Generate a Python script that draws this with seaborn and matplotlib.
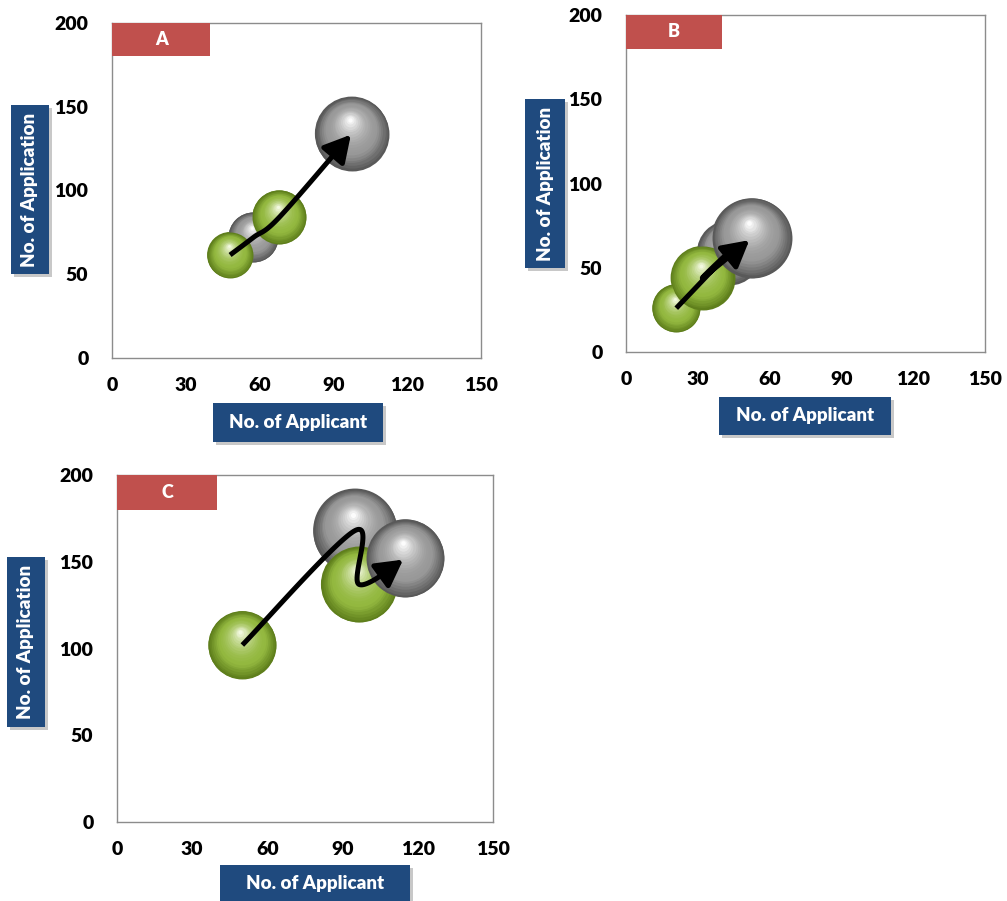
import numpy as np
import pandas as pd
import matplotlib
matplotlib.use("Agg")
import matplotlib.pyplot as plt
import matplotlib.transforms as mtransforms
from matplotlib.colors import to_rgb
from matplotlib.patches import Rectangle
import seaborn as sns

# ---- data ----
kind = ["green", "grey", "green", "grey"]

a_applicant = [48, 57.5, 68, 97.5]
a_application = [61.5, 72, 84, 134]
a_bubble = [529, 625, 729, 1369]

b_applicant = [21, 43, 32, 52.5]
b_application = [26, 59, 44, 67.5]
b_bubble = [576, 1024, 1024, 1600]

c_applicant = [50, 95, 96.5, 115]
c_application = [102, 168, 137, 152]
c_bubble = [1156, 1764, 1444, 1521]

x_ticks = [0, 30, 60, 90, 120, 150]
y_ticks = [0, 50, 100, 150, 200]

W, H = 1007, 901
AREA_SCALE = 2.07  # bubble value -> marker area (pt^2)
SHADES = {
    "green": ("#5f7f1c", "#93b83f", "#f2f9e0"),
    "grey": ("#595959", "#989898", "#fcfcfc"),
}
RED = "#c0504d"
BLUE = "#1f4a7e"
WEIGHT = "heavy"

sns.set_theme(style="white")
plt.rcParams["font.family"] = ["Lato", "DejaVu Sans"]
plt.rcParams["font.weight"] = "bold"


def fig_rect(x0, y0, x1, y1):
    return [x0 / W, 1 - y1 / H, (x1 - x0) / W, (y1 - y0) / H]


def blend(c1, c2, t):
    a, b = np.array(to_rgb(c1)), np.array(to_rgb(c2))
    return tuple(a + (b - a) * t)


def shade(kind_name, t):
    dark, mid, light = SHADES[kind_name]
    if t < 0.3:
        return blend(dark, mid, t / 0.3)
    return blend(mid, light, ((t - 0.3) / 0.7) ** 1.8)


def draw_spheres(ax, df, order):
    for rank, i in enumerate(order):
        row = df.iloc[i]
        s = row["bubble"] * AREA_SCALE
        r_pt = np.sqrt(s) / 2
        n = 20
        for k in range(n):
            t = k / (n - 1)
            f = 1 - 0.94 * t
            tr = mtransforms.offset_copy(ax.transData, fig=ax.figure,
                                         x=-0.06 * r_pt * t, y=0.38 * r_pt * t,
                                         units="points")
            ax.scatter([row["applicant"]], [row["application"]], s=s * f * f,
                       color=shade(row["kind"], t), linewidths=0,
                       transform=tr, zorder=3 + rank + k * 0.01)


def draw_path(ax, df):
    pts = ax.transData.transform(df[["applicant", "application"]].to_numpy(float))
    p = np.vstack([pts[0], pts, pts[-1]])
    curve = []
    for i in range(1, len(p) - 2):
        p0, p1, p2, p3 = p[i - 1], p[i], p[i + 1], p[i + 2]
        for t in np.linspace(0, 1, 40, endpoint=False):
            t2, t3 = t * t, t * t * t
            curve.append(0.5 * ((2 * p1) + (-p0 + p2) * t +
                                (2 * p0 - 5 * p1 + 4 * p2 - p3) * t2 +
                                (-p0 + 3 * p1 - 3 * p2 + p3) * t3))
    curve.append(p[-2])
    curve = np.array(curve)
    # stop the tip a little short of the last centre
    d = np.cumsum(np.r_[0, np.hypot(*np.diff(curve, axis=0).T)])
    tip_i = np.searchsorted(d, d[-1] - 3)
    base_i = np.searchsorted(d, d[-1] - 20)
    line = ax.transData.inverted().transform(curve[:base_i + 1])
    ax.plot(line[:, 0], line[:, 1], color="black", lw=3.6, zorder=20,
            solid_capstyle="butt")
    xy_tip = ax.transData.inverted().transform(curve[tip_i])
    ax.annotate("", xy=xy_tip, xytext=line[-1], zorder=21,
                arrowprops=dict(arrowstyle="-|>,head_length=1.0,head_width=0.55",
                                color="black", lw=3.6, shrinkA=0, shrinkB=0,
                                mutation_scale=16))


def style_axes(ax):
    ax.set_xlim(0, 150)
    ax.set_ylim(0, 200)
    ax.set_xticks(x_ticks, labels=[str(v) for v in x_ticks],
                  fontsize=14, fontweight=WEIGHT)
    ax.set_yticks(y_ticks, labels=[str(v) for v in y_ticks],
                  fontsize=14, fontweight=WEIGHT)
    ax.set_xlabel("")
    ax.set_ylabel("")
    for side in ["left", "bottom", "top", "right"]:
        ax.spines[side].set_visible(True)
        ax.spines[side].set_color("#8c8c8c")
        ax.spines[side].set_linewidth(1.0)
    ax.tick_params(axis="both", direction="out", length=6, width=1,
                   color="#8c8c8c", labelcolor="black")
    ax.tick_params(axis="x", pad=8)
    ax.tick_params(axis="y", pad=11)
    ax.grid(False)


def tag_box(ax, letter):
    ax.add_patch(Rectangle((0, 180), 40, 20, facecolor=RED, edgecolor="none",
                           zorder=30, clip_on=False))
    ax.text(20, 190, letter, color="white", fontsize=13, fontweight=WEIGHT,
            ha="center", va="center", zorder=31)


def label_box(fig, x0, y0, x1, y1, text, rotation=0):
    sx, sy = 3, 3
    fig.add_artist(Rectangle(((x0 + sx) / W, 1 - (y1 + sy) / H), (x1 - x0) / W,
                             (y1 - y0) / H, transform=fig.transFigure,
                             facecolor="#c8c8c8", edgecolor="none", zorder=1))
    fig.add_artist(Rectangle((x0 / W, 1 - y1 / H), (x1 - x0) / W, (y1 - y0) / H,
                             transform=fig.transFigure, facecolor=BLUE,
                             edgecolor="none", zorder=2))
    fig.text((x0 + x1) / 2 / W, 1 - (y0 + y1) / 2 / H, text, color="white",
             fontsize=13.5, fontweight=WEIGHT, ha="center", va="center",
             rotation=rotation, zorder=3)


panels = [
    ("A", a_applicant, a_application, a_bubble, fig_rect(112, 23, 481, 358),
     [1, 0, 2, 3], (11, 105, 49, 274), (213, 403, 383, 442)),
    ("B", b_applicant, b_application, b_bubble, fig_rect(626, 15, 985, 352),
     [1, 0, 2, 3], (525, 99, 565, 268), (719, 397, 891, 435)),
    ("C", c_applicant, c_application, c_bubble, fig_rect(117, 475, 493, 822),
     [0, 1, 2, 3], (7, 557, 45, 727), (220, 865, 410, 903)),
]

fig = plt.figure(figsize=(W / 100, H / 100), dpi=100)
palette = {k: SHADES[k][0] for k in SHADES}

for letter, xs, ys, bs, rect, order, ybox, xbox in panels:
    ax = fig.add_axes(rect)
    df = pd.DataFrame({"applicant": xs, "application": ys,
                       "bubble": bs, "kind": kind})
    sns.scatterplot(data=df, x="applicant", y="application", hue="kind",
                    size="bubble", sizes=(0, 2000 * AREA_SCALE),
                    size_norm=(0, 2000), palette=palette, linewidth=0,
                    legend=False, ax=ax, zorder=2)
    style_axes(ax)
    draw_spheres(ax, df, order)
    draw_path(ax, df)
    tag_box(ax, letter)
    label_box(fig, *ybox, "No. of Application", rotation=90)
    label_box(fig, *xbox, "No. of Applicant")

fig.savefig("out.png", dpi=100, facecolor="white")
